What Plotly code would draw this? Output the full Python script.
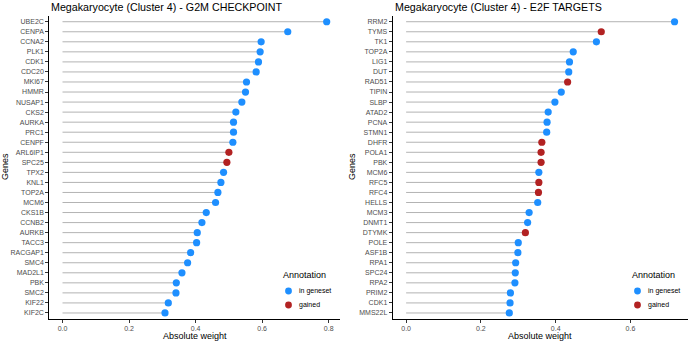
import plotly.graph_objects as go

# ---------------- data ----------------
g2m_genes = ["UBE2C", "CENPA", "CCNA2", "PLK1", "CDK1", "CDC20", "MKI67", "HMMR", "NUSAP1", "CKS2",
             "AURKA", "PRC1", "CENPF", "ARL6IP1", "SPC25", "TPX2", "KNL1", "TOP2A", "MCM6", "CKS1B",
             "CCNB2", "AURKB", "TACC3", "RACGAP1", "SMC4", "MAD2L1", "PBK", "SMC2", "KIF22", "KIF2C"]
g2m_weights = [0.794, 0.677, 0.597, 0.594, 0.589, 0.582, 0.553, 0.550, 0.539, 0.521,
               0.514, 0.514, 0.512, 0.500, 0.494, 0.484, 0.476, 0.467, 0.460, 0.432,
               0.419, 0.405, 0.403, 0.385, 0.376, 0.359, 0.342, 0.341, 0.318, 0.308]
g2m_annot = ["in geneset"] * 13 + ["gained", "gained"] + ["in geneset"] * 15

e2f_genes = ["RRM2", "TYMS", "TK1", "TOP2A", "LIG1", "DUT", "RAD51", "TIPIN", "SLBP", "ATAD2",
             "PCNA", "STMN1", "DHFR", "POLA1", "PBK", "MCM6", "RFC5", "RFC4", "HELLS", "MCM3",
             "DNMT1", "DTYMK", "POLE", "ASF1B", "RPA1", "SPC24", "RPA2", "PRIM2", "CDK1", "MMS22L"]
e2f_weights = [0.718, 0.522, 0.509, 0.447, 0.437, 0.435, 0.432, 0.415, 0.398, 0.380,
               0.377, 0.376, 0.363, 0.361, 0.361, 0.355, 0.355, 0.354, 0.352, 0.329,
               0.325, 0.319, 0.300, 0.299, 0.293, 0.292, 0.291, 0.279, 0.278, 0.276]
e2f_annot = ["in geneset", "gained", "in geneset", "in geneset", "in geneset", "in geneset", "gained",
             "in geneset", "in geneset", "in geneset", "in geneset", "in geneset", "gained", "gained",
             "gained", "in geneset", "gained", "gained", "in geneset", "in geneset", "in geneset",
             "gained", "in geneset", "in geneset", "in geneset", "in geneset", "in geneset",
             "in geneset", "in geneset", "in geneset"]

titles = ["Megakaryocyte (Cluster 4) - G2M CHECKPOINT", "Megakaryocyte (Cluster 4) - E2F TARGETS"]
x_ticks = [0.0, 0.2, 0.4, 0.6, 0.8]
annot_levels = ["in geneset", "gained"]
annot_colors = {"in geneset": "#1E8FFF", "gained": "#B22222"}
legend_title = "Annotation"

# ---------------- figure ----------------
W, H = 690, 342
FONT = "Liberation Sans, Arial, sans-serif"
fig = go.Figure()

panels = [
    dict(genes=g2m_genes, w=g2m_weights, a=g2m_annot, xa="x", ya="y"),
    dict(genes=e2f_genes, w=e2f_weights, a=e2f_annot, xa="x2", ya="y2"),
]

for p in panels:
    lx, ly = [], []
    for g, v in zip(p["genes"], p["w"]):
        lx += [0, v, None]
        ly += [g, g, None]
    fig.add_trace(go.Scatter(x=lx, y=ly, mode="lines", line=dict(color="#B3B3B3", width=1),
                             hoverinfo="skip", showlegend=False, xaxis=p["xa"], yaxis=p["ya"]))
    for lvl in annot_levels:
        xs = [v for v, a in zip(p["w"], p["a"]) if a == lvl]
        ys = [g for g, a in zip(p["genes"], p["a"]) if a == lvl]
        fig.add_trace(go.Scatter(x=xs, y=ys, mode="markers", name=lvl,
                                 marker=dict(color=annot_colors[lvl], size=7.2),
                                 xaxis=p["xa"], yaxis=p["ya"], showlegend=False))

# panel geometry (pixels)
left = [(49.3, 340.0), (392.7, 688.0)]
top_px, bot_px = 15.7, 319.0
ydom = [1 - bot_px / H, 1 - top_px / H]
xranges = [[-0.0397, 0.834], [-0.0359, 0.754]]
legend_x = [281, 630]

axis_common = dict(showline=True, linecolor="black", linewidth=1, ticks="outside", ticklen=3,
                   tickcolor="#333333", tickwidth=1, showgrid=False, zeroline=False,
                   automargin=False,
                   tickfont=dict(family=FONT, size=7, color="#4D4D4D"))

for i, p in enumerate(panels):
    sfx = "" if i == 0 else str(i + 1)
    fig.update_layout(**{
        "xaxis" + sfx: dict(domain=[left[i][0] / W, left[i][1] / W], range=xranges[i],
                            tickvals=x_ticks, tickformat=".1f", anchor="y" + sfx, **axis_common),
        "yaxis" + sfx: dict(domain=ydom, type="category", categoryorder="array",
                            categoryarray=p["genes"], range=[len(p["genes"]) - 0.4, -0.6],
                            anchor="x" + sfx, **axis_common),
    })
    # title
    fig.add_annotation(text=titles[i], xref="paper", yref="paper", x=left[i][0] / W, y=1 - 7 / H,
                       xanchor="left", yanchor="middle", showarrow=False,
                       font=dict(family=FONT, size=10.7, color="black"))
    # x axis title
    fig.add_annotation(text="Absolute weight", xref="paper", yref="paper",
                       x=(left[i][0] + left[i][1]) / 2 / W, y=1 - 336 / H,
                       xanchor="center", yanchor="middle", showarrow=False,
                       font=dict(family=FONT, size=9, color="black"))
    # y axis title
    gx = 5 if i == 0 else 352
    fig.add_annotation(text="Genes", xref="paper", yref="paper", x=gx / W, y=1 - 167 / H,
                       xanchor="center", yanchor="middle", textangle=-90, showarrow=False,
                       font=dict(family=FONT, size=9, color="black"))
    # legend (drawn inside the panel, like the reference)
    lx0 = legend_x[i]
    fig.add_annotation(text=legend_title, xref="paper", yref="paper", x=lx0 / W, y=1 - 275 / H,
                       xanchor="left", yanchor="middle", showarrow=False,
                       font=dict(family=FONT, size=9, color="black"))
    for k, lvl in enumerate(annot_levels):
        cy = 291 + 14 * k
        cx = lx0 + 7.5
        r = 3.4
        fig.add_shape(type="circle", xref="paper", yref="paper",
                      x0=(cx - r) / W, x1=(cx + r) / W, y0=1 - (cy + r) / H, y1=1 - (cy - r) / H,
                      fillcolor=annot_colors[lvl], line=dict(width=0))
        fig.add_annotation(text=lvl, xref="paper", yref="paper", x=(lx0 + 16) / W, y=1 - cy / H,
                           xanchor="left", yanchor="middle", showarrow=False,
                           font=dict(family=FONT, size=7, color="black"))

fig.update_layout(
    width=W, height=H, margin=dict(l=0, r=0, t=0, b=0),
    paper_bgcolor="white", plot_bgcolor="white", showlegend=False,
)

fig.write_html("out.html", config={"displayModeBar": False},
               post_script="document.body.style.margin='0';document.body.style.overflow='hidden';")
